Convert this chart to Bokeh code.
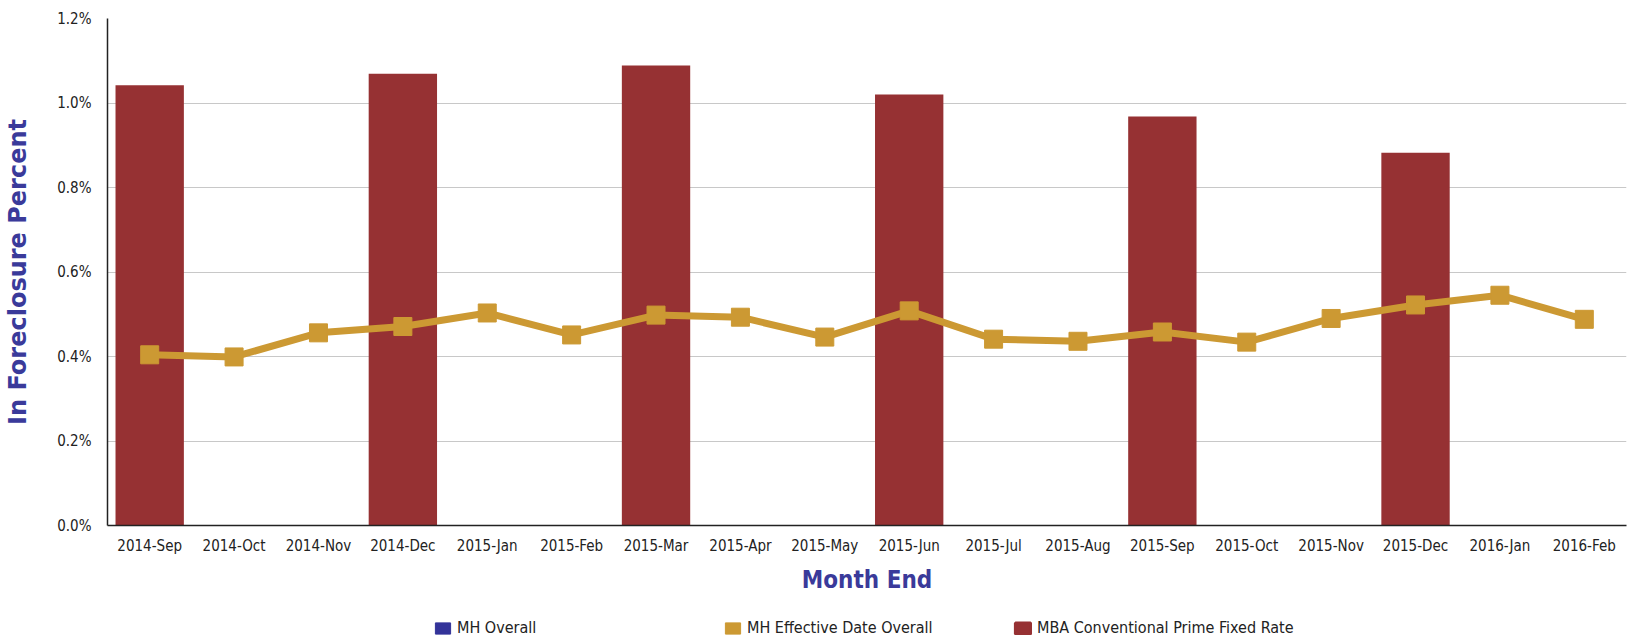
from bokeh.plotting import figure
from bokeh.models import (Legend, LegendItem, ColumnDataSource, PrintfTickFormatter,
                          FixedTicker, Range1d)
from bokeh.layouts import column
from bokeh.embed import file_html
from bokeh.resources import INLINE

nan = float("nan")

months = ["2014-Sep", "2014-Oct", "2014-Nov", "2014-Dec", "2015-Jan", "2015-Feb",
          "2015-Mar", "2015-Apr", "2015-May", "2015-Jun", "2015-Jul", "2015-Aug",
          "2015-Sep", "2015-Oct", "2015-Nov", "2015-Dec", "2016-Jan", "2016-Feb"]

# MBA Conventional Prime Fixed Rate (quarterly, percent)
mba_months = ["2014-Sep", "2014-Dec", "2015-Mar", "2015-Jun", "2015-Sep", "2015-Dec"]
mba_values = [1.042, 1.069, 1.089, 1.020, 0.968, 0.882]

# MH Effective Date Overall (percent)
mh_eff_values = [0.404, 0.399, 0.456, 0.471, 0.503, 0.451, 0.498, 0.493, 0.446,
                 0.508, 0.441, 0.436, 0.458, 0.434, 0.490, 0.522, 0.545, 0.488]

# MH Overall: no values visible in the chart
mh_overall_values = [nan] * 18

series_names = ["MH Overall", "MH Effective Date Overall", "MBA Conventional Prime Fixed Rate"]

y_ticks = [0.0, 0.2, 0.4, 0.6, 0.8, 1.0, 1.2]

BAR = "#963133"
GOLD = "#CC9933"
BLUE = "#333399"
LABEL = "#3A3A9A"
TICK_FONT = "DejaVu Sans Condensed"

p = figure(x_range=months, y_range=Range1d(0, 1.2),
           frame_width=1519, frame_height=507,
           output_backend="svg", toolbar_location=None,
           min_border_left=107, min_border_right=2, min_border_top=18, min_border_bottom=75)

p.outline_line_color = None
p.background_fill_color = "white"
p.xgrid.grid_line_color = None
p.ygrid.grid_line_color = "#c8c8c8"
p.ygrid.grid_line_width = 1

p.vbar(x=mba_months, top=mba_values, width=0.81, color=BAR, line_color=None)

src = ColumnDataSource(dict(x=months, y=mh_eff_values))
p.line("x", "y", source=src, line_color=GOLD, line_width=7)
p.scatter("x", "y", source=src, marker="square", size=18, fill_color=GOLD, line_color=GOLD)

blue_src = ColumnDataSource(dict(x=months, y=mh_overall_values))
p.scatter("x", "y", source=blue_src, marker="hex", size=19, fill_color=BLUE, line_color=BLUE)

# axes
p.yaxis.ticker = FixedTicker(ticks=y_ticks)
p.yaxis.formatter = PrintfTickFormatter(format="%.1f%%")
p.yaxis.axis_label = "In Foreclosure Percent"
p.yaxis.axis_label_text_font = "DejaVu Sans"
p.yaxis.axis_label_text_font_style = "bold"
p.yaxis.axis_label_text_font_size = "24px"
p.yaxis.axis_label_text_color = LABEL
p.yaxis.axis_label_standoff = 22
p.yaxis.major_label_text_font = TICK_FONT
p.yaxis.major_label_text_font_size = "15px"
p.yaxis.major_label_text_color = "#222222"
p.yaxis.major_label_standoff = 10
p.yaxis.major_tick_line_color = None
p.yaxis.minor_tick_line_color = None
p.yaxis.axis_line_color = "#222222"
p.yaxis.axis_line_width = 1.5

p.xaxis.axis_label = "Month End"
p.xaxis.axis_label_text_font = TICK_FONT
p.xaxis.axis_label_text_font_style = "bold"
p.xaxis.axis_label_text_font_size = "24px"
p.xaxis.axis_label_text_color = LABEL
p.xaxis.axis_label_standoff = 8
p.xaxis.major_label_text_font = TICK_FONT
p.xaxis.major_label_text_font_size = "15px"
p.xaxis.major_label_text_color = "#222222"
p.xaxis.major_label_standoff = 5
p.xaxis.major_tick_line_color = None
p.xaxis.axis_line_color = "#222222"
p.xaxis.axis_line_width = 1.5

# legend strip (separate small figure below the chart)
lf = figure(width=1628, height=39, x_range=Range1d(0, 1), y_range=Range1d(0, 1),
            output_backend="svg", toolbar_location=None,
            x_axis_type=None, y_axis_type=None, min_border=0)
lf.outline_line_color = None
lf.xgrid.grid_line_color = None
lf.ygrid.grid_line_color = None

r_blue = lf.vbar(x=[nan], top=[nan], width=0.1, fill_color=BLUE, line_color=BLUE, line_width=1)
r_gold = lf.vbar(x=[nan], top=[nan], width=0.1, fill_color=GOLD, line_color=GOLD, line_width=1)
r_red = lf.vbar(x=[nan], top=[nan], width=0.1, fill_color=BAR, line_color=BAR, line_width=3)

legend = Legend(items=[
    LegendItem(label=series_names[0], renderers=[r_blue]),
    LegendItem(label=series_names[1], renderers=[r_gold]),
    LegendItem(label=series_names[2], renderers=[r_red]),
], orientation="horizontal", location=(326, 2))
legend.label_text_font = TICK_FONT
legend.label_text_font_size = "16px"
legend.label_text_color = "#222222"
legend.label_width = 254
legend.label_height = 16
legend.glyph_width = 19
legend.glyph_height = 14
legend.label_standoff = 5
legend.spacing = 12
legend.border_line_color = None
legend.background_fill_alpha = 0
legend.margin = 0
legend.padding = 0
lf.add_layout(legend, "center")

open("out.html", "w").write(file_html(column(p, lf, spacing=0), INLINE))
